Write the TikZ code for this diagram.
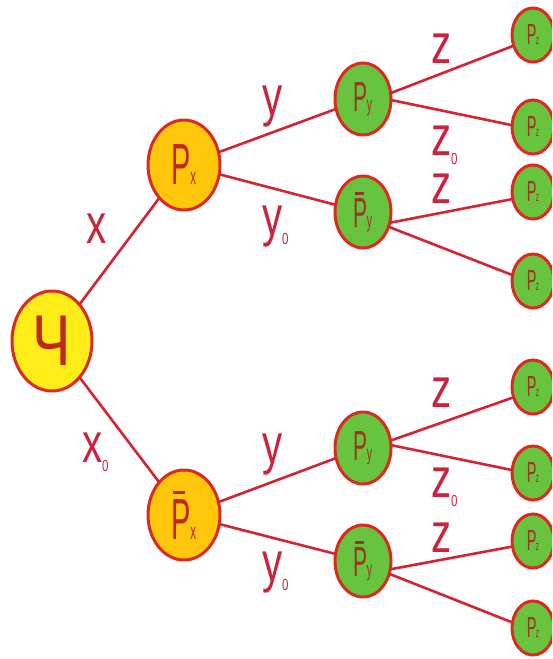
\documentclass[tikz,border=0pt]{standalone}
\usepackage{fontspec}
\setmainfont{Liberation Sans}
\newfontfamily\cf[FakeStretch=0.5]{Liberation Sans}
\newfontfamily\lf[FakeStretch=0.72]{Liberation Sans}
\newfontfamily\rf[FakeStretch=0.8]{Liberation Sans}
\usetikzlibrary{shapes.geometric}
\definecolor{edgecol}{RGB}{212,36,52}
\definecolor{outl}{RGB}{220,42,34}
\definecolor{lblcol}{RGB}{204,34,62}
\definecolor{yel}{RGB}{255,236,24}
\definecolor{org}{RGB}{255,198,12}
\definecolor{grn}{RGB}{104,196,62}
\definecolor{txtA}{RGB}{190,40,30}
\definecolor{txtB}{RGB}{150,55,30}
\newcommand{\barP}{\setbox0\hbox{P}\rlap{\raisebox{\dimexpr\ht0+0.09em\relax}{\hspace*{0.05\wd0}\rule{0.65\wd0}{0.055em}}}\box0}
\newcommand{\lsub}[1]{{\fontsize{16}{16}\selectfont\raisebox{-9pt}{#1}}}
\tikzset{
  every node/.style={inner sep=0pt, outer sep=0pt},
  bub/.style={ellipse, draw=outl, line width=3pt},
  bigbub/.style={bub, minimum width=72pt, minimum height=90pt, fill=org, text=txtA},
  midbub/.style={bub, minimum width=56pt, minimum height=72pt, fill=grn, text=txtB},
  endbub/.style={bub, minimum width=42pt, minimum height=54pt, fill=grn, text=txtB},
  edge/.style={draw=edgecol, line width=2.6pt},
  lbl/.style={text=lblcol, anchor=base west, text height=30pt, text depth=10pt,
              font=\lf\fontsize{56}{56}\selectfont},
}
\begin{document}
\begin{tikzpicture}[x=1pt, y=-1pt]
\useasboundingbox (0,0) rectangle (552,659);
\fill[white] (0,0) rectangle (552,659);
\clip (0,0) rectangle (552,659);
% nodes
\node[bub, minimum width=80pt, minimum height=100pt, fill=yel, text=txtA,
      font=\rf\fontsize{72}{72}\selectfont] (root) at (52,341) {Ч};
\node[bigbub, font=\cf\fontsize{58}{58}\selectfont] (px) at (184,165)
  {P\kern-1pt{\fontsize{23}{23}\selectfont x}};
\node[bigbub, font=\cf\fontsize{58}{58}\selectfont] (pbx) at (184,515)
  {\barP\kern-1pt{\fontsize{23}{23}\selectfont x}};
\node[midbub, font=\cf\fontsize{42}{42}\selectfont] (py1) at (363,99)
  {P\kern-1pt{\fontsize{21}{21}\selectfont y}};
\node[midbub, font=\cf\fontsize{42}{42}\selectfont] (pby1) at (363,212)
  {\barP\kern-1pt{\fontsize{21}{21}\selectfont y}};
\node[midbub, font=\cf\fontsize{42}{42}\selectfont] (py2) at (363,448)
  {P\kern-1pt{\fontsize{21}{21}\selectfont y}};
\node[midbub, font=\cf\fontsize{42}{42}\selectfont] (pby2) at (363,561)
  {\barP\kern-1pt{\fontsize{21}{21}\selectfont y}};
\foreach \n/\yy in {r1/35, r2/127, r3/192, r4/281, r5/387, r6/473, r7/541, r8/628}
  \node[endbub, font=\cf\fontsize{29}{29}\selectfont] (\n) at (533,\yy)
    {P\kern-0.5pt{\fontsize{13}{13}\selectfont z}};
% edges
\draw[edge] (root) -- (px);
\draw[edge] (root) -- (pbx);
\draw[edge] (px) -- (py1);
\draw[edge] (px) -- (pby1);
\draw[edge] (pbx) -- (py2);
\draw[edge] (pbx) -- (pby2);
\draw[edge] (py1.12) -- (r1.209);
\draw[edge] (py1.-2) -- (r2.175);
\draw[edge] (pby1.-22) -- (r3.199);
\draw[edge] (pby1.-30) -- (r4.164);
\draw[edge] (py2.15) -- (r5.208);
\draw[edge] (py2.6) -- (r6.172);
\draw[edge] (pby2.-17) -- (r7.195);
\draw[edge] (pby2.-26) -- (r8.165);
% labels
\node[lbl] (lx) at (86,243) {x};
\node[lbl] (lx0) at (82,462) {x\lsub{0}};
\node[lbl] (ly1) at (262,115) {y};
\node[lbl] (ly01) at (262,235) {y\lsub{0}};
\node[lbl] (lz1) at (431,63) {z};
\node[lbl] (lz01) at (431,155) {z\lsub{0}};
\node[lbl] (lz2) at (431,203) {z};
\node[lbl] (ly2) at (262,463) {y};
\node[lbl] (ly02) at (262,581) {y\lsub{0}};
\node[lbl] (lz3) at (431,407) {z};
\node[lbl] (lz03) at (431,497) {z\lsub{0}};
\node[lbl] (lz4) at (431,552) {z};
\end{tikzpicture}
\end{document}
